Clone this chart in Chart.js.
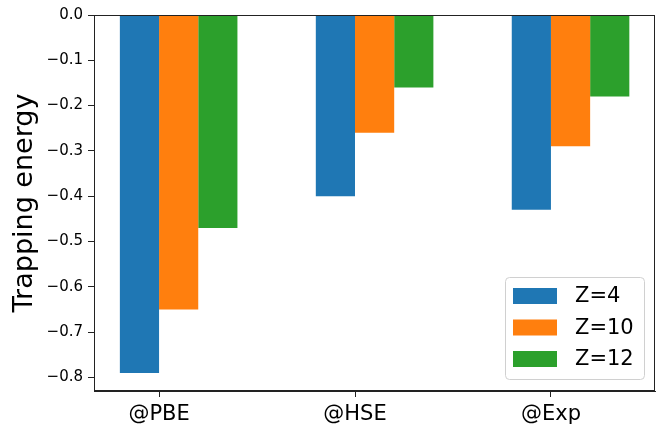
<!DOCTYPE html>
<html>
<head>
<meta charset="utf-8">
<script src="https://cdn.jsdelivr.net/npm/chart.js@4/dist/chart.umd.min.js"></script>
<style>
  html, body { margin: 0; padding: 0; background: #fff; }
  #wrap { width: 658px; height: 425px; position: relative; }
</style>
</head>
<body>
<div id="wrap"><canvas id="trapChart"></canvas></div>
<script>
  // data
  const categories = ['@PBE', '@HSE', '@Exp'];
  const seriesLabels = ['Z=4', 'Z=10', 'Z=12'];
  const z4 = [-0.79, -0.40, -0.43];
  const z10 = [-0.65, -0.26, -0.29];
  const z12 = [-0.47, -0.16, -0.18];
  const yTicks = [0, -0.1, -0.2, -0.3, -0.4, -0.5, -0.6, -0.7, -0.8];
  const xTicks = [0, 1, 2];

  const colors = ['#1f77b4', '#ff7f0e', '#2ca02c'];
  const FONT = "'DejaVu Sans', sans-serif";

  // group is shifted so the tick sits between first and second bar
  function toPoints(vals) {
    return vals.map((v, i) => ({ x: xTicks[i] + 0.1, y: v }));
  }

  const frame = {
    id: 'frame',
    afterDatasetsDraw(chart) {
      const { ctx, chartArea: a } = chart;
      ctx.save();
      ctx.strokeStyle = '#222';
      ctx.lineWidth = 1;
      ctx.strokeRect(a.left + 0.5, a.top + 0.5, a.right - a.left - 1, a.bottom - a.top - 1);
      ctx.restore();
    }
  };

  const boxLegend = {
    id: 'boxLegend',
    afterDraw(chart) {
      const { ctx, chartArea: a } = chart;
      const w = 139, h = 102;
      const x0 = a.right - 11 - w, y0 = a.bottom - 12 - h;
      ctx.save();
      ctx.fillStyle = 'rgba(255,255,255,0.8)';
      ctx.strokeStyle = '#d0d0d0';
      ctx.lineWidth = 1;
      ctx.beginPath();
      ctx.roundRect(x0 + 0.5, y0 + 0.5, w, h, 4);
      ctx.fill();
      ctx.stroke();
      ctx.font = '21px ' + FONT;
      ctx.textBaseline = 'middle';
      chart.data.datasets.forEach((ds, i) => {
        const cy = y0 + 19 + i * 31.5;
        ctx.fillStyle = ds.backgroundColor;
        ctx.fillRect(x0 + 8, cy - 8, 44, 16);
        ctx.fillStyle = '#000';
        ctx.fillText(ds.label, x0 + 70, cy + 1);
      });
      ctx.restore();
    }
  };

  const ctx = document.getElementById('trapChart').getContext('2d');
  const trapChart = new Chart(ctx, {
    type: 'bar',
    data: {
      datasets: [
        { label: seriesLabels[0], data: toPoints(z4), backgroundColor: colors[0] },
        { label: seriesLabels[1], data: toPoints(z10), backgroundColor: colors[1] },
        { label: seriesLabels[2], data: toPoints(z12), backgroundColor: colors[2] }
      ]
    },
    options: {
      responsive: true,
      maintainAspectRatio: false,
      animation: false,
      categoryPercentage: 0.6,
      barPercentage: 1.0,
      layout: { padding: { top: 15, right: 3, left: 0, bottom: 0 } },
      plugins: {
        legend: { display: false },
        tooltip: { enabled: false }
      },
      scales: {
        x: {
          type: 'linear',
          offset: false,
          min: -0.332,
          max: 2.531,
          afterBuildTicks: (scale) => { scale.ticks = xTicks.map(v => ({ value: v })); },
          afterFit: (scale) => { scale.height = 34; },
          ticks: {
            color: '#000',
            font: { family: FONT, size: 21 },
            padding: 5,
            maxRotation: 0,
            callback: (v) => categories[xTicks.indexOf(v)] || ''
          },
          grid: { offset: false, drawOnChartArea: false, tickLength: 6, color: '#222' },
          border: { color: '#222', width: 1 }
        },
        y: {
          min: -0.83,
          max: 0,
          afterBuildTicks: (scale) => { scale.ticks = yTicks.map(v => ({ value: v })); },
          afterFit: (scale) => { scale.width = 94; },
          title: {
            display: true,
            text: 'Trapping energy',
            color: '#000',
            font: { family: FONT, size: 27 },
            padding: { top: 9, bottom: 0 }
          },
          ticks: {
            color: '#000',
            font: { family: FONT, size: 15 },
            padding: 5,
            callback: (v) => (v < 0 ? '\u2212' : '') + Math.abs(v).toFixed(1)
          },
          grid: { drawOnChartArea: false, tickLength: 6, color: '#222' },
          border: { color: '#222', width: 1 }
        }
      }
    },
    plugins: [frame, boxLegend]
  });
</script>
</body>
</html>
